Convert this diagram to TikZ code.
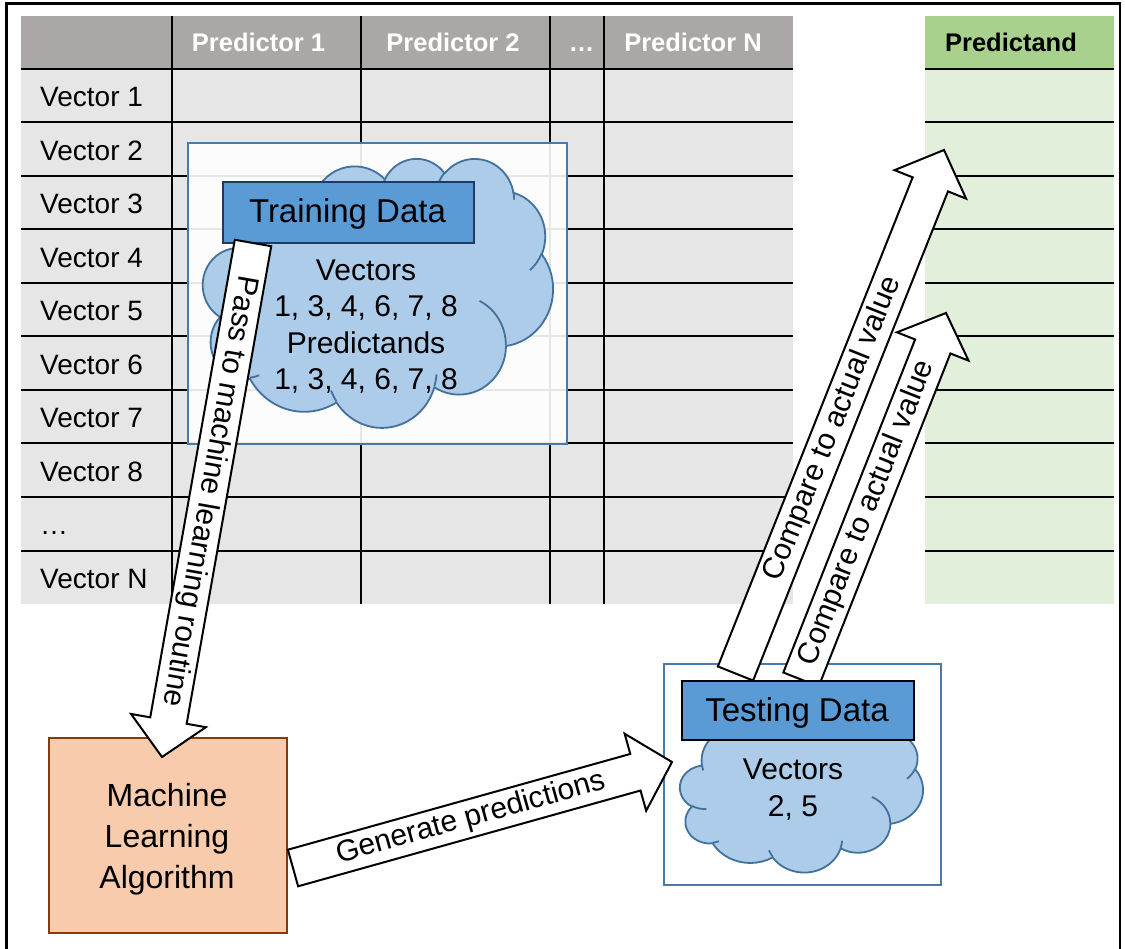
\documentclass[tikz,border=0pt]{standalone}
\usepackage{fontspec}
\setmainfont{Liberation Sans}
\usetikzlibrary{calc}

\definecolor{hdrgray}{HTML}{ABA7A6}
\definecolor{cellgray}{HTML}{E6E6E6}
\definecolor{hdrgreen}{HTML}{A9D18E}
\definecolor{cellgreen}{HTML}{E2EFDA}
\definecolor{cloudfill}{HTML}{ADCCE9}
\definecolor{cloudedge}{HTML}{41719C}
\definecolor{frameblue}{HTML}{4A78A8}
\definecolor{labelblue}{HTML}{5B9BD5}
\definecolor{labeledge}{HTML}{1F3864}
\definecolor{algofill}{HTML}{F8CBAD}
\definecolor{algoedge}{HTML}{843C0C}

% One elliptical arc of an Office-style cloud outline. The angles are polar
% angles; they are turned into the parametric angles that TikZ's arc uses.
\newcommand\cloudarc[4]{%
  \pgfextra{%
    \pgfmathsetmacro\cloudS{atan2(#1*sin(#3),#2*cos(#3))}%
    \pgfmathsetmacro\cloudE{atan2(#1*sin(#3+#4),#2*cos(#3+#4))}%
    \pgfmathsetmacro\cloudD{mod(\cloudE-\cloudS+720,360)}%
    \global\let\cloudS\cloudS\global\let\cloudD\cloudD}%
  arc[start angle=\cloudS, delta angle=\cloudD, x radius=#1, y radius=#2]}

% Cloud in the box with top-left corner (#1,#2), width #3 and height #4;
% the outline lives in a 4320 x 4320 grid.
\newcommand\officecloud[4]{%
  \pgfmathsetmacro\cloudsx{#3/4320}%
  \pgfmathsetmacro\cloudsy{#4/4320}%
  \begin{scope}[shift={(#1,#2)}, x=\cloudsx pt, y=-\cloudsy pt]
    \draw[cloudshape] (390,1437)
      \cloudarc{675.3}{919.0}{-190.4875}{123.7805}
      \cloudarc{533.3}{726.7}{-144.1024}{89.9452}
      \cloudarc{436.5}{594.5}{-145.8079}{99.7230}
      \cloudarc{485.7}{659.5}{-130.9861}{117.2417}
      \cloudarc{533.3}{727.3}{-78.7089}{109.0269}
      \cloudarc{677.5}{922.0}{-46.2673}{130.2690}
      \cloudarc{578.5}{786.7}{0.6250}{114.0333}
      \cloudarc{675.2}{921.5}{22.4516}{115.1726}
      \cloudarc{772.0}{1054.3}{66.2426}{75.7110}
      \cloudarc{436.0}{591.8}{-274.9421}{146.7356}
      \cloudarc{434.5}{594.5}{-246.8285}{152.5189}
      -- cycle;
    \draw[cloudcrease]
      (469.3,2617.7) \cloudarc{434.5}{594.5}{86.742}{26.4295}
      (692.8,3489.9) \cloudarc{436.0}{591.8}{73.6105}{11.4475}
      (1647.8,3909.0) \cloudarc{675.2}{921.5}{137.6242}{14.0811}
      (2882.7,3475.1) \cloudarc{675.2}{921.5}{6.4533}{15.9984}
      (3412.9,2295.4) \cloudarc{578.5}{786.7}{-70.2924}{70.9174}
      (4179.8,1535.4) \cloudarc{533.3}{727.3}{30.3180}{27.7515}
      (3832.4,542.6) \cloudarc{485.7}{659.5}{-13.7443}{14.8589}
      (2907.8,395.2) \cloudarc{485.7}{659.5}{-149.1815}{18.1954}
      (2214.1,472.0) \cloudarc{436.5}{594.5}{-163.4943}{17.8339}
      (1400.0,519.2) \cloudarc{675.3}{919.0}{-66.7070}{12.3194}
      (412.7,1578.9) \cloudarc{675.3}{919.0}{157.6544}{11.8582};
  \end{scope}}

% Block arrow from tail #1 to tip #2: half shaft width #3,
% half head width #4, head length #5.
\newcommand\blockarrow[5]{%
  \coordinate (#1-base) at ($(#2)!#5!(#1)$);
  \draw[blockarrow]
    ($(#1)!#3!90:(#2)$) -- ($(#1-base)!#3!-90:(#1)$)
    -- ($(#1-base)!#4!-90:(#1)$) -- (#2)
    -- ($(#1-base)!#4!90:(#1)$) -- ($(#1-base)!#3!90:(#1)$)
    -- ($(#1)!#3!-90:(#2)$) -- cycle;}

\begin{document}
\begin{tikzpicture}[x=1pt, y=-1pt,
  font=\fontsize{28}{33}\selectfont,
  gridline/.style={line width=2pt, black},
  hdr/.style={font=\fontsize{25.5}{30}\selectfont\bfseries, text=white,
    anchor=base, inner sep=0pt},
  rowlab/.style={anchor=base west, inner sep=0pt},
  cloudshape/.style={fill=cloudfill, draw=cloudedge, line width=1.8pt, line join=round},
  cloudcrease/.style={draw=cloudedge, line width=1.8pt},
  holder/.style={draw=frameblue, line width=2pt, fill=white, fill opacity=0.9,
    anchor=north west, inner sep=0pt},
  setlabel/.style={draw=labeledge, fill=labelblue, line width=2pt, anchor=north west,
    inner sep=0pt},
  labeltext/.style={anchor=base, inner sep=0pt, font=\fontsize{33}{40}\selectfont},
  algobox/.style={draw=algoedge, fill=algofill, line width=2pt, anchor=north west,
    inner sep=0pt},
  algotext/.style={align=center, inner sep=0pt, font=\fontsize{32}{41}\selectfont},
  cloudtext/.style={align=center, inner sep=0pt, font=\fontsize{30}{36.6}\selectfont},
  blockarrow/.style={draw=black, fill=white, line width=2pt, line join=miter},
  arrowtext/.style={font=\fontsize{30}{36}\selectfont, sloped, allow upside down, inner sep=0pt},
]
\useasboundingbox (0,0) rectangle (1125,949);
\clip (0,0) rectangle (1125,949);

% ---- data table ----
\fill[hdrgray] (21,16) rectangle (793,69);
\fill[cellgray] (21,69) rectangle (793,604);
\fill[hdrgreen] (925,16) rectangle (1114,69);
\fill[cellgreen] (925,69) rectangle (1114,604);
\foreach \k in {0,...,9} {
  \pgfmathsetmacro\yy{69+53.5*\k}
  \draw[gridline] (21,\yy) -- (793,\yy);
  \draw[gridline] (925,\yy) -- (1114,\yy);
}
\foreach \xx in {172,361,550,604}
  \draw[gridline] (\xx,16) -- (\xx,604);

\node[hdr] (pred1) at (258.5,51.5) {Predictor 1};
\node[hdr] (pred2) at (453,51.5) {Predictor 2};
\node[hdr] (preddots) at (581.5,51.5) {…};
\node[hdr] (predN) at (693,51.5) {Predictor N};
\node[hdr, text=black] (predictand) at (1011,51.5) {Predictand};

\foreach \lab [count=\i] in {Vector 1, Vector 2, Vector 3, Vector 4, Vector 5,
    Vector 6, Vector 7, Vector 8, …, Vector N}
  \node[rowlab] (row\i) at (40,{69+53.5*(\i-0.5)+11}) {\lab};

% ---- training set ----
\node[holder, minimum width=379pt, minimum height=301pt] (trainframe) at (187,142) {};
\officecloud{203}{158}{350}{269}
\node[setlabel, minimum width=251pt, minimum height=61pt] (trainlab) at (222,181) {};
\node[labeltext] (trainlabtext) at (347.5,222.5) {Training Data};
\node[cloudtext] (traintext) at (366,326.5) {Vectors\\1, 3, 4, 6, 7, 8\\Predictands\\1, 3, 4, 6, 7, 8};

% ---- learner ----
\node[algobox, minimum width=238pt, minimum height=195pt] (algo) at (48,737) {};
\node[algotext] (algotext) at (167,839.5) {Machine\\Learning\\Algorithm};

\coordinate (passA) at (253,243);
\coordinate (passB) at (162,757);
\blockarrow{passA}{passB}{18.5pt}{38pt}{37pt}
\path (passA) -- (passA-base) node[arrowtext, pos=0.52] (passtext) {Pass to machine learning routine};

% ---- testing set ----
\node[holder, minimum width=277pt, minimum height=221pt] (testframe) at (663,663) {};
\officecloud{680}{712}{243}{160}

\coordinate (cmpLA) at (735.5,673.5);
\coordinate (cmpLB) at (944,150);
\blockarrow{cmpLA}{cmpLB}{19pt}{38.5pt}{37pt}
\path (cmpLA) -- (cmpLA-base) node[arrowtext, pos=0.5] (cmpLtext) {Compare to actual value};

\coordinate (cmpRA) at (801,679.5);
\coordinate (cmpRB) at (946,313);
\blockarrow{cmpRA}{cmpRB}{19pt}{38.5pt}{36pt}
\path (cmpRA) -- (cmpRA-base) node[arrowtext, pos=0.5] (cmpRtext) {Compare to actual value};

\node[setlabel, draw=black, minimum width=232pt, minimum height=59pt] (testlab) at (681,680) {};
\node[labeltext] (testlabtext) at (797,721.5) {Testing Data};
\node[cloudtext] (testtext) at (793,789.5) {Vectors\\2, 5};

\coordinate (genA) at (293,868);
\coordinate (genB) at (672,762);
\blockarrow{genA}{genB}{19pt}{40pt}{38pt}
\path (genA) -- (genA-base) node[arrowtext, pos=0.52] (gentext) {Generate predictions};

% ---- outer border ----
\draw[line width=2.5pt] (6.5,3.5) rectangle (1120,960);
\end{tikzpicture}
\end{document}
